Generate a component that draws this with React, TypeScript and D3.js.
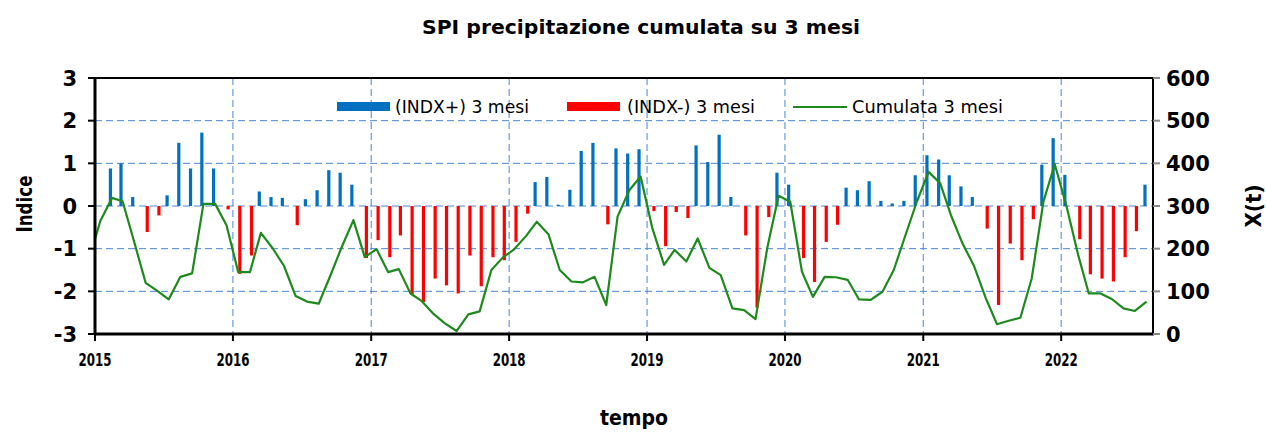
import React from 'react'
import * as d3 from 'd3'

const W = 1266
const H = 432

// SPI 3 mesi, un valore al mese da gen 2015 ad ago 2022
const spi2015 = [0, 0.88, 1.0, 0.21, -0.61, -0.22, 0.25, 1.48, 0.88, 1.72, 0.88, -0.08]
const spi2016 = [-1.59, -1.16, 0.34, 0.21, 0.19, -0.45, 0.16, 0.37, 0.84, 0.78, 0.5, -1.22]
const spi2017 = [-0.8, -1.2, -0.69, -2.07, -2.25, -1.7, -1.86, -2.05, -1.16, -1.88, -1.2, -1.27]
const spi2018 = [-0.84, -0.18, 0.56, 0.68, 0.03, 0.38, 1.29, 1.48, -0.43, 1.35, 1.23, 1.33]
const spi2019 = [-0.12, -0.94, -0.14, -0.28, 1.42, 1.03, 1.67, 0.21, -0.69, -2.38, -0.26, 0.78]
const spi2020 = [0.5, -1.22, -1.78, -0.84, -0.44, 0.43, 0.37, 0.58, 0.12, 0.06, 0.12, 0.72]
const spi2021 = [1.19, 1.09, 0.72, 0.46, 0.21, -0.53, -2.32, -0.88, -1.27, -0.31, 0.97, 1.59]
const spi2022 = [0.73, -0.78, -1.6, -1.7, -1.77, -1.2, -0.59, 0.5]
const spi = [...spi2015, ...spi2016, ...spi2017, ...spi2018, ...spi2019, ...spi2020, ...spi2021, ...spi2022]

// cumulata 3 mesi (mm), da dic 2014 (fuori scala a sinistra) ad ago 2022
const cum2014 = [170]
const cum2015 = [265, 319, 311, 215, 120, 101, 81, 134, 142, 305, 305, 255]
const cum2016 = [145, 145, 237, 201, 160, 89, 76, 71, 137, 204, 267, 180]
const cum2017 = [199, 145, 152, 95, 77, 47, 25, 7, 46, 53, 150, 179]
const cum2018 = [199, 230, 263, 234, 150, 123, 121, 134, 68, 275, 337, 369]
const cum2019 = [248, 162, 197, 170, 224, 155, 138, 60, 56, 35, 201, 324]
const cum2020 = [310, 146, 87, 134, 133, 127, 81, 80, 99, 150, 232, 310]
const cum2021 = [380, 353, 279, 212, 160, 85, 23, 31, 38, 130, 310, 398]
const cum2022 = [300, 185, 95, 95, 82, 60, 54, 76]
const cumulata = [...cum2014, ...cum2015, ...cum2016, ...cum2017, ...cum2018, ...cum2019, ...cum2020, ...cum2021, ...cum2022]

const yearLabels = ['2015', '2016', '2017', '2018', '2019', '2020', '2021', '2022']
const indexTicks = [-3, -2, -1, 0, 1, 2, 3]
const mmTicks = [0, 100, 200, 300, 400, 500, 600]

const FONT = 'DejaVu Sans'
const GRID = '#4A86D8'

export default function App() {
  const left = 95, right = 1153, top = 78, bottom = 334

  const x = d3.scaleTime()
    .domain([new Date(2015, 0, 1), new Date(2022, 8, 1)])
    .range([left, right])
  const y = d3.scaleLinear().domain([-3, 3]).range([bottom, top])
  const y2 = d3.scaleLinear().domain([0, 600]).range([bottom, top])

  const spiMonths = d3.timeMonth.range(new Date(2015, 0, 1), new Date(2022, 8, 1))
  const cumMonths = d3.timeMonth.range(new Date(2014, 11, 1), new Date(2022, 8, 1))
  const mid = (d: Date) => new Date(d.getFullYear(), d.getMonth(), 15)

  const years = yearLabels.map(s => new Date(+s, 0, 1))

  const line = d3.line<number>()
    .x((_, i) => x(mid(cumMonths[i])))
    .y(v => y2(v))

  const bw = 3.2

  return (
    <svg width={W} height={H} style={{ position: 'absolute', left: 0, top: 0, background: '#fff' }}
      fontFamily={FONT}>
      <defs>
        <clipPath id="plot">
          <rect x={left} y={top} width={right - left} height={bottom - top} />
        </clipPath>
      </defs>

      <text x={641} y={34} textAnchor="middle" fontWeight="bold" fontSize={20}
        textLength={438} lengthAdjust="spacingAndGlyphs">SPI precipitazione cumulata su 3 mesi</text>

      {/* griglia */}
      {indexTicks.filter(v => v > -3 && v < 3).map(v => (
        <line key={'h' + v} x1={left} x2={right} y1={y(v)} y2={y(v)}
          stroke={GRID} strokeWidth={1} strokeDasharray="7,4" />
      ))}
      {years.slice(1).map((d, i) => (
        <line key={'v' + i} x1={x(d)} x2={x(d)} y1={top} y2={bottom}
          stroke={GRID} strokeWidth={1} strokeDasharray="7,4" />
      ))}

      {/* barre e linea */}
      <g clipPath="url(#plot)">
        {spi.map((v, i) => {
          const cx = x(mid(spiMonths[i]))
          if (v === 0) return null
          return v > 0
            ? <rect key={i} x={cx - bw} y={y(v)} width={bw} height={y(0) - y(v)} fill="#0070C0" />
            : <rect key={i} x={cx} y={y(0)} width={bw} height={y(v) - y(0)} fill="#FF0000" />
        })}
        <path d={line(cumulata) || ''} fill="none" stroke="#1E8A1E" strokeWidth={2.2}
          strokeLinejoin="round" />
      </g>

      {/* cornice e assi */}
      <line x1={left} x2={right} y1={top} y2={top} stroke="#000" strokeWidth={2} />
      <line x1={right} x2={right} y1={top} y2={bottom} stroke="#000" strokeWidth={2} />
      <line x1={left} x2={left} y1={top - 1} y2={bottom + 1} stroke="#000" strokeWidth={3} />
      <line x1={left - 1} x2={right + 1} y1={bottom} y2={bottom} stroke="#000" strokeWidth={3} />

      {indexTicks.map(v => (
        <g key={'l' + v}>
          <line x1={left - 7} x2={left} y1={y(v)} y2={y(v)} stroke="#000" strokeWidth={2} />
          <text x={77} y={y(v)} dy="0.36em" textAnchor="end" fontWeight="bold" fontSize={21}>{v}</text>
        </g>
      ))}
      {mmTicks.map(v => (
        <g key={'r' + v}>
          <line x1={right} x2={right + 7} y1={y2(v)} y2={y2(v)} stroke="#888" strokeWidth={2} />
          <text x={1166} y={y2(v)} dy="0.36em" textAnchor="start" fontWeight="bold" fontSize={21}>{v}</text>
        </g>
      ))}
      {years.map((d, i) => (
        <g key={'x' + i}>
          <line x1={x(d)} x2={x(d)} y1={bottom} y2={bottom + 7} stroke="#000" strokeWidth={2} />
          <text x={x(d)} y={366} textAnchor="middle" fontWeight="bold" fontSize={18}
            textLength={33} lengthAdjust="spacingAndGlyphs">{yearLabels[i]}</text>
        </g>
      ))}

      <text transform="translate(32,204) rotate(-90)" textAnchor="middle" fontWeight="bold" fontSize={21}
        textLength={57} lengthAdjust="spacingAndGlyphs">Indice</text>
      <text transform="translate(1261,206) rotate(-90)" textAnchor="middle" fontWeight="bold" fontSize={21}
        textLength={43} lengthAdjust="spacingAndGlyphs">X(t)</text>
      <text x={634} y={425} textAnchor="middle" fontWeight="bold" fontSize={22}
        textLength={68} lengthAdjust="spacingAndGlyphs">tempo</text>

      {/* legenda */}
      <rect x={337} y={102} width={53} height={9} fill="#0070C0" />
      <text x={395} y={113} fontSize={18} textLength={134} lengthAdjust="spacingAndGlyphs">(INDX+) 3 mesi</text>
      <rect x={567} y={102} width={53} height={9} fill="#FF0000" />
      <text x={627} y={113} fontSize={18} textLength={128} lengthAdjust="spacingAndGlyphs">(INDX-) 3 mesi</text>
      <line x1={793} x2={847} y1={107} y2={107} stroke="#1E8A1E" strokeWidth={2} />
      <text x={852} y={113} fontSize={18} textLength={151} lengthAdjust="spacingAndGlyphs">Cumulata 3 mesi</text>
    </svg>
  )
}
